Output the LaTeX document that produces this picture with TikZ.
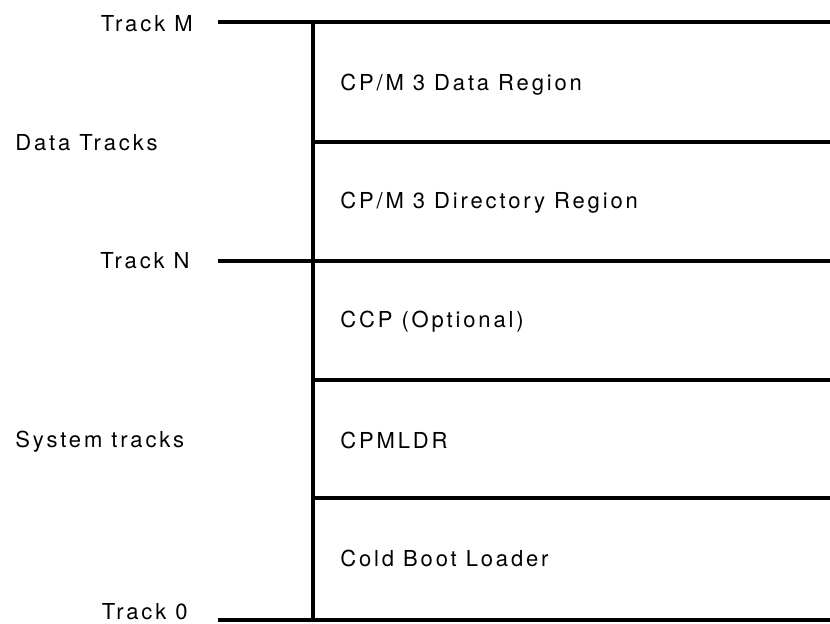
\documentclass[tikz,border=0pt]{standalone}
\usepackage{fontspec}
\setmainfont[LetterSpace=13]{TeX Gyre Heros}
\usepackage{tikz}

\tikzset{
  track/.style={line width=1.8pt},
  side/.style={font=\fontsize{11}{13}\selectfont, inner sep=0pt},
  region/.style={font=\fontsize{11}{13}\selectfont, inner sep=0pt, anchor=west}
}

\begin{document}
\begin{tikzpicture}[x=0.5pt, y=-0.5pt]
\useasboundingbox (0,0) rectangle (830,624);

% outline of the disk layout
\draw[track] (218,22) -- (830,22);
\draw[track] (313,22) -- (313,620);
\draw[track] (313,142) -- (830,142);
\draw[track] (218,261) -- (830,261);
\draw[track] (313,380) -- (830,380);
\draw[track] (313,498) -- (830,498);
\draw[track] (218,620) -- (830,620);

% labels on the left
\node[side, anchor=east] (trackM) at (193,24) {Track M};
\node[side, anchor=west] (datatracks) at (15,143) {Data Tracks};
\node[side, anchor=east] (trackN) at (190,261) {Track N};
\node[side, anchor=west] (systracks) at (15,442) {System tracks};
\node[side, anchor=east] (track0) at (188,612) {Track 0};

% the regions
\node[region] (dataregion) at (340,85) {CP/M 3 Data Region};
\node[region] (dirregion) at (340,203) {CP/M 3 Directory Region};
\node[region] (ccp) at (340,322) {CCP (Optional)};
\node[region] (cpmldr) at (340,440) {CPMLDR};
\node[region] (coldboot) at (340,558) {Cold Boot Loader};

\end{tikzpicture}
\end{document}
